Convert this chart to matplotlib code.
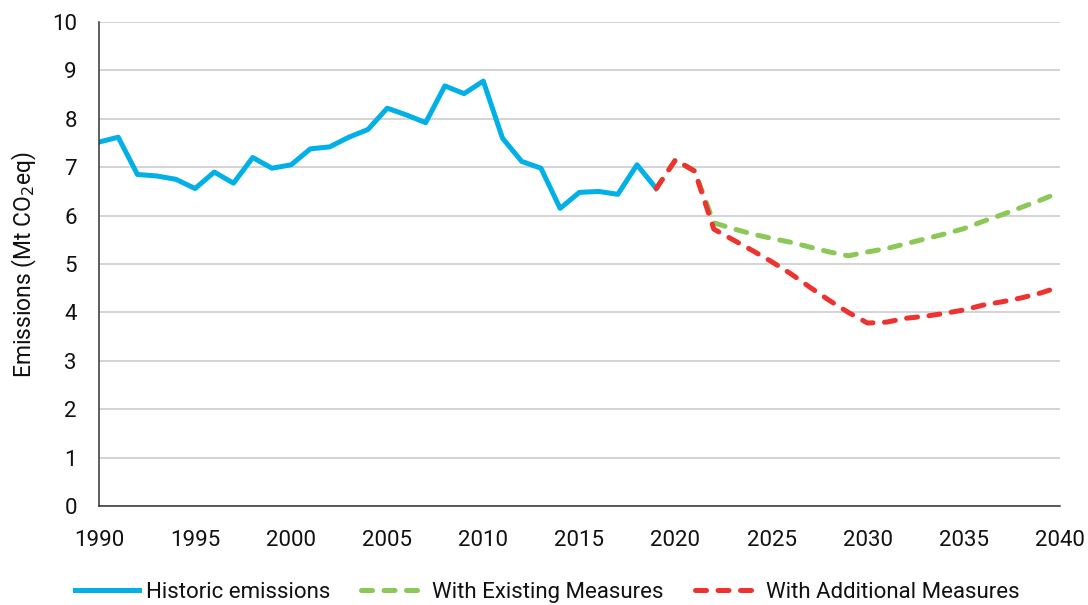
import matplotlib
matplotlib.use("Agg")
import matplotlib.pyplot as plt

plt.rcParams['font.family'] = ['Roboto', 'DejaVu Sans']

hist_years = list(range(1990, 2020))
hist_vals = [7.52, 7.62, 6.85, 6.82, 6.75, 6.56, 6.90, 6.67, 7.20, 6.98,
             7.05, 7.38, 7.42, 7.62, 7.78, 8.22, 8.08, 7.92, 8.68, 8.52,
             8.78, 7.60, 7.12, 6.98, 6.15, 6.48, 6.50, 6.44, 7.05, 6.56]

proj_years = list(range(2019, 2041))
wem_vals = [6.56, 7.15, 6.92, 5.85, 5.73, 5.62, 5.53, 5.45, 5.35, 5.25, 5.17,
            5.25, 5.32, 5.42, 5.52, 5.62, 5.73, 5.88, 6.02, 6.17, 6.32, 6.48]
wam_vals = [6.56, 7.15, 6.92, 5.72, 5.50, 5.28, 5.05, 4.80, 4.52, 4.25, 4.00,
            3.78, 3.80, 3.88, 3.92, 3.98, 4.05, 4.15, 4.22, 4.30, 4.40, 4.53]

fig = plt.figure(figsize=(10.88, 6.05), dpi=100)
ax = fig.add_axes([0.091, 0.1636, 0.883, 0.80])

ax.plot(hist_years, hist_vals, color='#00b0e6', lw=3.6,
        label='Historic emissions')
ax.plot(proj_years, wem_vals, color='#8cc858', lw=3.6, dashes=(2.2, 2.3),
        dash_capstyle='round', label='With Existing Measures')
ax.plot(proj_years, wam_vals, color='#ee3230', lw=3.6, dashes=(2.2, 2.3),
        dash_capstyle='round', label='With Additional Measures')

ax.set_xlim(1990, 2040)
ax.set_ylim(0, 10)
ax.set_xticks(range(1990, 2041, 5))
ax.set_yticks(range(0, 11))
ax.grid(axis='y', color='#d0d0d0', lw=1.3)
ax.set_axisbelow(True)
for s in ['top', 'right']:
    ax.spines[s].set_visible(False)
ax.spines['left'].set_color('#333333')
ax.spines['bottom'].set_color('#333333')
ax.spines['left'].set_linewidth(1.1)
ax.spines['bottom'].set_linewidth(1.1)
ax.tick_params(length=0, labelsize=16, labelcolor='#111111')
ax.tick_params(axis='x', pad=17)
ax.tick_params(axis='y', pad=16)
ax.set_ylabel('Emissions (Mt CO$_2$eq)', fontsize=16.5, labelpad=9,
              color='#111111')

fig.legend(*ax.get_legend_handles_labels(), loc='center',
           bbox_to_anchor=(0.503, 0.021), ncol=3,
           frameon=False, fontsize=16, handlelength=2.9, handletextpad=0.3,
           columnspacing=1.4, labelcolor='#111111')

fig.savefig('out.png', dpi=100)
